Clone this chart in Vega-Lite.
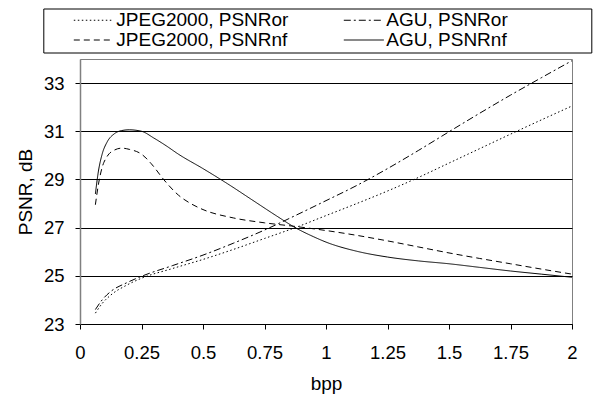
{
  "$schema": "https://vega.github.io/schema/vega-lite/v6.json",
  "autosize": {"type": "none"},
  "padding": {"left": 80, "top": 59, "right": 23, "bottom": 77},
  "width": 492,
  "height": 265,
  "background": "white",
  "config": {
    "font": "Liberation Sans",
    "view": {"stroke": "#808080", "strokeWidth": 1}
  },
  "datasets": {
    "curves": [
      {"bpp": 0.0625, "psnr": 23.45, "series": "JPEG2000, PSNRor"},
      {"bpp": 0.09, "psnr": 23.85, "series": "JPEG2000, PSNRor"},
      {"bpp": 0.125, "psnr": 24.2, "series": "JPEG2000, PSNRor"},
      {"bpp": 0.1875, "psnr": 24.6, "series": "JPEG2000, PSNRor"},
      {"bpp": 0.25, "psnr": 24.9, "series": "JPEG2000, PSNRor"},
      {"bpp": 0.375, "psnr": 25.3, "series": "JPEG2000, PSNRor"},
      {"bpp": 0.5, "psnr": 25.68, "series": "JPEG2000, PSNRor"},
      {"bpp": 0.625, "psnr": 26.1, "series": "JPEG2000, PSNRor"},
      {"bpp": 0.75, "psnr": 26.55, "series": "JPEG2000, PSNRor"},
      {"bpp": 0.875, "psnr": 27.0, "series": "JPEG2000, PSNRor"},
      {"bpp": 1.0, "psnr": 27.5, "series": "JPEG2000, PSNRor"},
      {"bpp": 1.125, "psnr": 28.0, "series": "JPEG2000, PSNRor"},
      {"bpp": 1.25, "psnr": 28.52, "series": "JPEG2000, PSNRor"},
      {"bpp": 1.375, "psnr": 29.08, "series": "JPEG2000, PSNRor"},
      {"bpp": 1.5, "psnr": 29.68, "series": "JPEG2000, PSNRor"},
      {"bpp": 1.625, "psnr": 30.28, "series": "JPEG2000, PSNRor"},
      {"bpp": 1.75, "psnr": 30.88, "series": "JPEG2000, PSNRor"},
      {"bpp": 1.875, "psnr": 31.47, "series": "JPEG2000, PSNRor"},
      {"bpp": 2.0, "psnr": 32.05, "series": "JPEG2000, PSNRor"},

      {"bpp": 0.0625, "psnr": 23.6, "series": "AGU, PSNRor"},
      {"bpp": 0.09, "psnr": 24.0, "series": "AGU, PSNRor"},
      {"bpp": 0.125, "psnr": 24.35, "series": "AGU, PSNRor"},
      {"bpp": 0.1875, "psnr": 24.7, "series": "AGU, PSNRor"},
      {"bpp": 0.25, "psnr": 24.98, "series": "AGU, PSNRor"},
      {"bpp": 0.375, "psnr": 25.42, "series": "AGU, PSNRor"},
      {"bpp": 0.5, "psnr": 25.86, "series": "AGU, PSNRor"},
      {"bpp": 0.625, "psnr": 26.36, "series": "AGU, PSNRor"},
      {"bpp": 0.75, "psnr": 26.9, "series": "AGU, PSNRor"},
      {"bpp": 0.875, "psnr": 27.5, "series": "AGU, PSNRor"},
      {"bpp": 1.0, "psnr": 28.12, "series": "AGU, PSNRor"},
      {"bpp": 1.125, "psnr": 28.75, "series": "AGU, PSNRor"},
      {"bpp": 1.25, "psnr": 29.45, "series": "AGU, PSNRor"},
      {"bpp": 1.375, "psnr": 30.2, "series": "AGU, PSNRor"},
      {"bpp": 1.5, "psnr": 30.98, "series": "AGU, PSNRor"},
      {"bpp": 1.625, "psnr": 31.75, "series": "AGU, PSNRor"},
      {"bpp": 1.75, "psnr": 32.5, "series": "AGU, PSNRor"},
      {"bpp": 1.875, "psnr": 33.22, "series": "AGU, PSNRor"},
      {"bpp": 2.0, "psnr": 33.93, "series": "AGU, PSNRor"},

      {"bpp": 0.0625, "psnr": 27.95, "series": "JPEG2000, PSNRnf"},
      {"bpp": 0.075, "psnr": 28.8, "series": "JPEG2000, PSNRnf"},
      {"bpp": 0.09, "psnr": 29.5, "series": "JPEG2000, PSNRnf"},
      {"bpp": 0.11, "psnr": 29.95, "series": "JPEG2000, PSNRnf"},
      {"bpp": 0.14, "psnr": 30.22, "series": "JPEG2000, PSNRnf"},
      {"bpp": 0.17, "psnr": 30.3, "series": "JPEG2000, PSNRnf"},
      {"bpp": 0.2, "psnr": 30.25, "series": "JPEG2000, PSNRnf"},
      {"bpp": 0.25, "psnr": 30.05, "series": "JPEG2000, PSNRnf"},
      {"bpp": 0.29, "psnr": 29.65, "series": "JPEG2000, PSNRnf"},
      {"bpp": 0.34, "psnr": 29.0, "series": "JPEG2000, PSNRnf"},
      {"bpp": 0.4, "psnr": 28.35, "series": "JPEG2000, PSNRnf"},
      {"bpp": 0.45, "psnr": 28.0, "series": "JPEG2000, PSNRnf"},
      {"bpp": 0.5, "psnr": 27.75, "series": "JPEG2000, PSNRnf"},
      {"bpp": 0.625, "psnr": 27.4, "series": "JPEG2000, PSNRnf"},
      {"bpp": 0.75, "psnr": 27.2, "series": "JPEG2000, PSNRnf"},
      {"bpp": 0.875, "psnr": 27.05, "series": "JPEG2000, PSNRnf"},
      {"bpp": 1.0, "psnr": 26.88, "series": "JPEG2000, PSNRnf"},
      {"bpp": 1.125, "psnr": 26.68, "series": "JPEG2000, PSNRnf"},
      {"bpp": 1.25, "psnr": 26.45, "series": "JPEG2000, PSNRnf"},
      {"bpp": 1.375, "psnr": 26.2, "series": "JPEG2000, PSNRnf"},
      {"bpp": 1.5, "psnr": 25.95, "series": "JPEG2000, PSNRnf"},
      {"bpp": 1.625, "psnr": 25.72, "series": "JPEG2000, PSNRnf"},
      {"bpp": 1.75, "psnr": 25.5, "series": "JPEG2000, PSNRnf"},
      {"bpp": 1.875, "psnr": 25.28, "series": "JPEG2000, PSNRnf"},
      {"bpp": 2.0, "psnr": 25.07, "series": "JPEG2000, PSNRnf"},

      {"bpp": 0.0625, "psnr": 28.4, "series": "AGU, PSNRnf"},
      {"bpp": 0.075, "psnr": 29.35, "series": "AGU, PSNRnf"},
      {"bpp": 0.09, "psnr": 30.05, "series": "AGU, PSNRnf"},
      {"bpp": 0.11, "psnr": 30.55, "series": "AGU, PSNRnf"},
      {"bpp": 0.14, "psnr": 30.9, "series": "AGU, PSNRnf"},
      {"bpp": 0.17, "psnr": 31.03, "series": "AGU, PSNRnf"},
      {"bpp": 0.2, "psnr": 31.06, "series": "AGU, PSNRnf"},
      {"bpp": 0.25, "psnr": 31.0, "series": "AGU, PSNRnf"},
      {"bpp": 0.3, "psnr": 30.72, "series": "AGU, PSNRnf"},
      {"bpp": 0.35, "psnr": 30.4, "series": "AGU, PSNRnf"},
      {"bpp": 0.4, "psnr": 30.05, "series": "AGU, PSNRnf"},
      {"bpp": 0.5, "psnr": 29.45, "series": "AGU, PSNRnf"},
      {"bpp": 0.6, "psnr": 28.82, "series": "AGU, PSNRnf"},
      {"bpp": 0.7, "psnr": 28.15, "series": "AGU, PSNRnf"},
      {"bpp": 0.8, "psnr": 27.48, "series": "AGU, PSNRnf"},
      {"bpp": 0.875, "psnr": 27.0, "series": "AGU, PSNRnf"},
      {"bpp": 0.95, "psnr": 26.62, "series": "AGU, PSNRnf"},
      {"bpp": 1.0, "psnr": 26.4, "series": "AGU, PSNRnf"},
      {"bpp": 1.125, "psnr": 26.02, "series": "AGU, PSNRnf"},
      {"bpp": 1.25, "psnr": 25.78, "series": "AGU, PSNRnf"},
      {"bpp": 1.375, "psnr": 25.62, "series": "AGU, PSNRnf"},
      {"bpp": 1.5, "psnr": 25.5, "series": "AGU, PSNRnf"},
      {"bpp": 1.625, "psnr": 25.35, "series": "AGU, PSNRnf"},
      {"bpp": 1.75, "psnr": 25.2, "series": "AGU, PSNRnf"},
      {"bpp": 1.875, "psnr": 25.07, "series": "AGU, PSNRnf"},
      {"bpp": 2.0, "psnr": 24.94, "series": "AGU, PSNRnf"}
    ]
  },
  "layer": [
    {
      "data": {"name": "curves"},
      "mark": {"type": "line", "interpolate": "monotone", "color": "black", "strokeWidth": 1, "clip": false},
      "encoding": {
        "x": {
          "field": "bpp", "type": "quantitative",
          "scale": {"domain": [0, 2], "nice": false, "zero": false},
          "axis": {
            "title": "bpp", "values": [0, 0.25, 0.5, 0.75, 1, 1.25, 1.5, 1.75, 2], "format": ".3~g",
            "grid": false, "labelFlush": false, "labelOverlap": false,
            "labelFontSize": 18.5, "labelColor": "black", "labelPadding": 14,
            "tickSize": 5, "tickColor": "black", "tickWidth": 1,
            "domainColor": "black", "domainWidth": 1,
            "titleFontSize": 19, "titleFontWeight": "normal", "titleColor": "black", "titlePadding": 13
          }
        },
        "y": {
          "field": "psnr", "type": "quantitative",
          "scale": {"domain": [23, 34], "nice": false, "zero": false},
          "axis": {
            "title": "PSNR, dB", "values": [23, 25, 27, 29, 31, 33],
            "grid": true, "gridColor": "black", "gridWidth": 1, "gridOpacity": 1,
            "labelFontSize": 18.5, "labelColor": "black", "labelPadding": 11,
            "tickSize": 5, "tickColor": "black", "tickWidth": 1,
            "domainColor": "#808080", "domainWidth": 1.5,
            "titleFontSize": 19, "titleFontWeight": "normal", "titleColor": "black", "titlePadding": 8
          }
        },
        "strokeDash": {
          "field": "series", "type": "nominal",
          "scale": {
            "domain": ["JPEG2000, PSNRor", "JPEG2000, PSNRnf", "AGU, PSNRor", "AGU, PSNRnf"],
            "range": [[1.5, 2.5], [6, 4], [7, 3, 2, 3], [1, 0]]
          },
          "legend": {
            "orient": "none", "legendX": -36.7, "legendY": -50.5,
            "columns": 2, "title": " ", "titleOrient": "right", "titleFontSize": 1, "titlePadding": 82,
            "strokeColor": "black", "padding": 2,
            "labelFontSize": 19, "labelColor": "black", "labelOffset": 2, "labelLimit": 400,
            "symbolType": "stroke", "symbolSize": 1600, "symbolStrokeWidth": 1, "symbolStrokeColor": "black",
            "symbolOffset": 28, "columnPadding": 26, "rowPadding": -0.7, "clipHeight": 19
          }
        }
      }
    },
    {
      "mark": {"type": "rule", "color": "black", "strokeWidth": 1, "clip": false},
      "encoding": {"x": {"datum": -0.35}, "x2": {"datum": 2.2}, "y": {"datum": 36.27}}
    },
    {
      "mark": {"type": "rule", "color": "black", "strokeWidth": 1, "clip": false},
      "encoding": {"x": {"datum": -0.316}, "y": {"datum": 36.27}, "y2": {"datum": 18}}
    }
  ]
}
